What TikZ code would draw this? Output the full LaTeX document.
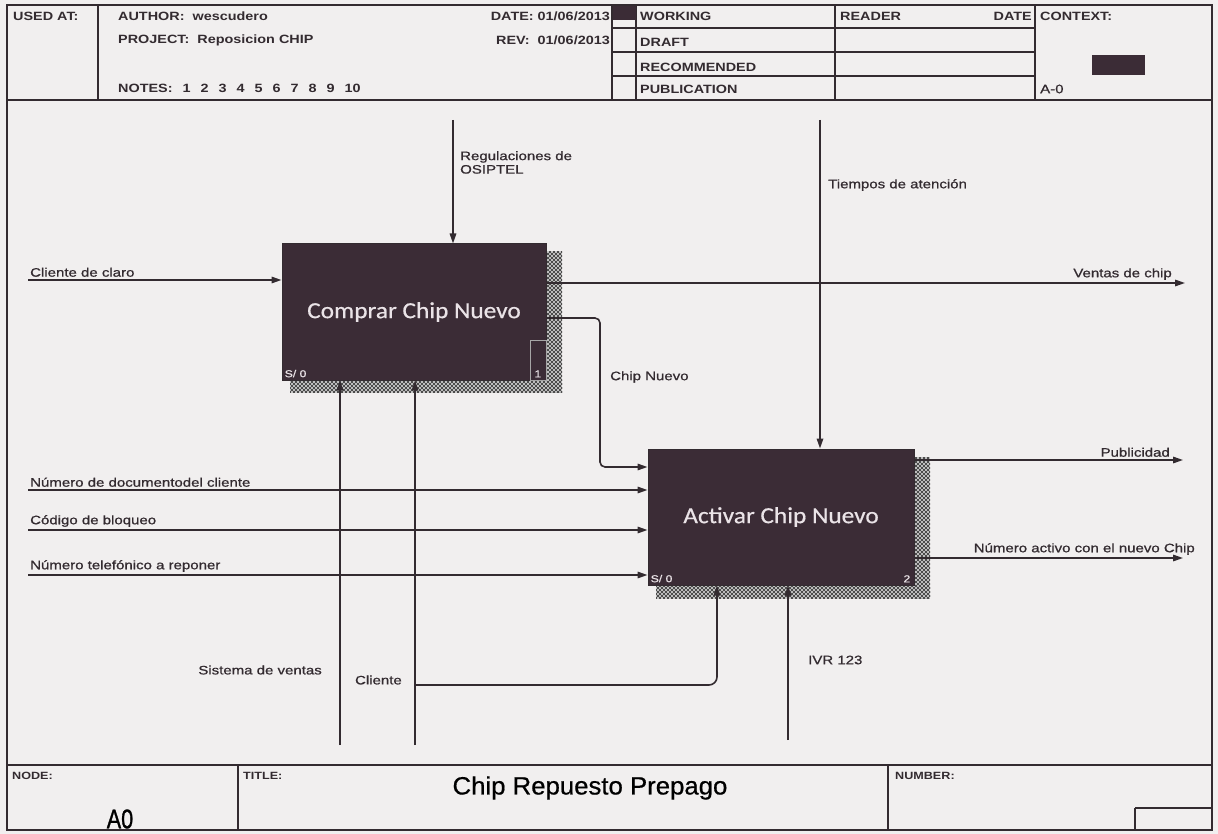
\documentclass[tikz,border=0pt]{standalone}
\usepackage{fontspec}
\setmainfont{Liberation Sans}
\newfontfamily\hdrf[FakeStretch=1.2,UprightFont=* Bold]{Liberation Sans}
\newfontfamily\lblf[FakeStretch=1.22,FakeBold=0.8]{Liberation Sans}
\newfontfamily\boxf[FakeStretch=1.1,FakeBold=0.6]{Carlito}
\newfontfamily\ttlf[FakeStretch=1.03,FakeBold=0.6]{Liberation Sans}
\newfontfamily\aof[FakeStretch=0.8,FakeBold=1]{Liberation Sans}
\usetikzlibrary{arrows.meta,patterns,calc}
\pgfdeclarepatternformonly{bighatch}{\pgfqpoint{-1pt}{-1pt}}{\pgfqpoint{5pt}{5pt}}{\pgfqpoint{4pt}{4pt}}{%
  \pgfsetlinewidth{1pt}%
  \pgfpathmoveto{\pgfqpoint{0pt}{0pt}}\pgfpathlineto{\pgfqpoint{4pt}{4pt}}%
  \pgfpathmoveto{\pgfqpoint{0pt}{4pt}}\pgfpathlineto{\pgfqpoint{4pt}{0pt}}%
  \pgfusepath{stroke}}
\definecolor{inkc}{HTML}{332B30}
\definecolor{boxc}{HTML}{3B2C36}
\definecolor{paperc}{HTML}{F1EFEF}
\definecolor{boxtxt}{HTML}{EAE3E7}
\begin{document}
\begin{tikzpicture}[x=1pt,y=-1pt,
  frame/.style={draw=inkc, line width=2pt},
  thin/.style={draw=inkc, line width=1.3pt},
  arr/.style={draw=inkc, line width=1.6pt, -{Triangle[length=10pt,width=6.5pt]}},
  proc/.style={draw=inkc, fill=boxc, line width=1pt, minimum width=264pt, minimum height=136pt, inner sep=0pt, text=boxtxt, font=\boxf\fontsize{23}{26}\selectfont},
  lbl/.style={font=\lblf\fontsize{12.3}{13.5}\selectfont, text=inkc, inner sep=0pt},
  hdr/.style={font=\hdrf\fontsize{12}{13}\selectfont, text=inkc, inner sep=0pt},
  small/.style={font=\lblf\fontsize{10}{11}\selectfont, text=boxtxt, inner sep=0pt},
  shadow/.style={fill=gray!25, postaction={pattern=bighatch, pattern color=gray!60!black}}
]
\fill[paperc] (0,0) rectangle (1218,834);
\useasboundingbox (0,0) rectangle (1218,834);

% frame
\draw[frame] (7,5) rectangle (1212,830);
\draw[frame, line width=2.4pt] (7,100) -- (1212,100);
\draw[frame, line width=2.4pt] (7,765) -- (1212,765);

% header grid
\draw[frame] (98,5) -- (98,100);
\draw[thin] (612,5) -- (612,100);
\draw[thin] (636,5) -- (636,100);
\draw[thin] (835,5) -- (835,100);
\draw[thin] (1035,5) -- (1035,100);
\draw[frame, line width=1.8pt] (612,28) -- (1035,28);
\draw[frame, line width=1.8pt] (612,52) -- (1035,52);
\draw[thin] (612,76) -- (1035,76);
\fill[boxc] (613,6) rectangle (636,20);
\fill[boxc] (1092,55) rectangle (1145,75);

% header text
\node[hdr, anchor=west] (usedat) at (13,16) {USED AT:};
\node[hdr, anchor=west] (author) at (118,16) {AUTHOR:\ \ wescudero};
\node[hdr, anchor=west] (project) at (118,40) {PROJECT:\ \ Reposicion CHIP};
\node[hdr, anchor=west] (notes) at (118,88) {NOTES:\hspace{10pt}1\hspace{10pt}2\hspace{10pt}3\hspace{10pt}4\hspace{10pt}5\hspace{10pt}6\hspace{10pt}7\hspace{10pt}8\hspace{10pt}9\hspace{10pt}10};
\node[hdr, anchor=east] (date) at (610,16) {DATE: 01/06/2013};
\node[hdr, anchor=east] (rev) at (610,40) {REV:\ \ 01/06/2013};
\node[hdr, anchor=west] (working) at (640,16) {WORKING};
\node[hdr, anchor=west] (draft) at (640,42) {DRAFT};
\node[hdr, anchor=west] (recom) at (640,67) {RECOMMENDED};
\node[hdr, anchor=west] (publ) at (640,89) {PUBLICATION};
\node[hdr, anchor=west] (reader) at (840,16) {READER};
\node[hdr, anchor=east] (rdate) at (1032,16) {DATE};
\node[hdr, anchor=west] (context) at (1040,16) {CONTEXT:};
\node[lbl, anchor=west] (aminus) at (1040,89) {A-0};

% footer
\draw[thin] (238,765) -- (238,830);
\draw[thin] (888,765) -- (888,830);
\draw[thin] (1135,808) -- (1212,808);
\draw[thin] (1135,808) -- (1135,830);
\node[hdr, anchor=west, font=\hdrf\fontsize{10.5}{12}\selectfont] (nodel) at (12,776) {NODE:};
\node[hdr, anchor=west, font=\hdrf\fontsize{10.5}{12}\selectfont] (titlel) at (243,776) {TITLE:};
\node[hdr, anchor=west, font=\hdrf\fontsize{10.5}{12}\selectfont] (numberl) at (895,776) {NUMBER:};
\node[inner sep=0pt, text=black, font=\aof\fontsize{27}{28}\selectfont] (a0) at (120,819) {A0};
\node[inner sep=0pt, text=black, font=\ttlf\fontsize{25}{28}\selectfont] (title) at (590,788) {Chip Repuesto Prepago};

% shadows
\fill[shadow] (546,252) rectangle (562,392);
\fill[shadow] (290,380) rectangle (562,392);
\fill[shadow] (914,457) rectangle (930,598);
\fill[shadow] (656,585) rectangle (930,598);

% coordinates
\coordinate (reg) at (453,120);
\coordinate (tie) at (820,120);
\coordinate (cc) at (28,280);
\coordinate (vc) at (1185,283);
\coordinate (cn1) at (600,318);
\coordinate (cn2) at (600,467);
\coordinate (nd) at (28,490);
\coordinate (cb) at (28,530);
\coordinate (nt) at (28,575);
\coordinate (pu) at (1183,460);
\coordinate (na) at (1183,558);
\coordinate (sv) at (340,745);
\coordinate (cl) at (415,745);
\coordinate (clb) at (415,685);
\coordinate (clc) at (717,685);
\coordinate (ivr) at (788,740);

% boxes (placed for anchors)
\node[proc] (b1) at (414,312) {Comprar Chip Nuevo};
\node[proc, minimum width=266pt] (b2) at (781,517) {Activar Chip Nuevo};

% connectors
\draw[arr] (reg) -- (reg |- b1.north);
\draw[arr] (tie) -- (tie |- b2.north);
\draw[arr] (cc) -- (cc -| b1.west);
\draw[arr] (vc -| b1.east) -- (vc);
\draw[arr, rounded corners=5pt] (cn1 -| b1.east) -- (cn1) -- (cn2) -- (cn2 -| b2.west);
\draw[arr] (nd) -- (nd -| b2.west);
\draw[arr] (cb) -- (cb -| b2.west);
\draw[arr] (nt) -- (nt -| b2.west);
\draw[arr] (pu -| b2.east) -- (pu);
\draw[arr] (na -| b2.east) -- (na);
\draw[arr] (sv) -- (sv |- b1.south);
\draw[arr] (cl) -- (cl |- b1.south);
\draw[arr, rounded corners=8pt] (clb) -- (clc) -- (clc |- b2.south);
\draw[arr] (ivr) -- (ivr |- b2.south);

% redraw boxes on top
\node[proc] at (b1) {Comprar Chip Nuevo};
\node[proc, minimum width=266pt] at (b2) {Activar Chip Nuevo};
\draw[draw=gray!70, line width=0.6pt] ([xshift=-16pt]b1.south east) rectangle ([yshift=40pt]b1.south east);
\node[small, anchor=south west] (s1) at ([shift={(3pt,3pt)}]b1.south west) {S/ 0};
\node[small, anchor=south east] (n1) at ([shift={(-5pt,3pt)}]b1.south east) {1};
\node[small, anchor=south west] (s2) at ([shift={(3pt,3pt)}]b2.south west) {S/ 0};
\node[small, anchor=south east] (n2) at ([shift={(-4pt,3pt)}]b2.south east) {2};

% labels
\node[lbl, anchor=north west, align=left] (lreg) at (460,151) {Regulaciones de\\OSIPTEL};
\node[lbl, anchor=west] (ltie) at (828,185) {Tiempos de atención};
\node[lbl, anchor=south west] (lcc) at (30,277) {Cliente de claro};
\node[lbl, anchor=south east] (lvc) at (1172,280) {Ventas de chip};
\node[lbl, anchor=west] (lcn) at (610,377) {Chip Nuevo};
\node[lbl, anchor=south west] (lnd) at (30,487) {Número de documentodel cliente};
\node[lbl, anchor=south west] (lcb) at (30,527) {Código de bloqueo};
\node[lbl, anchor=south west] (lnt) at (30,572) {Número telefónico a reponer};
\node[lbl, anchor=south east] (lpu) at (1170,457) {Publicidad};
\node[lbl, anchor=south east] (lna) at (1195,555) {Número activo con el nuevo Chip};
\node[lbl, anchor=east] (lsv) at (322,670) {Sistema de ventas};
\node[lbl, anchor=east] (lcl) at (402,680) {Cliente};
\node[lbl, anchor=west] (livr) at (808,660) {IVR 123};
\end{tikzpicture}
\end{document}
